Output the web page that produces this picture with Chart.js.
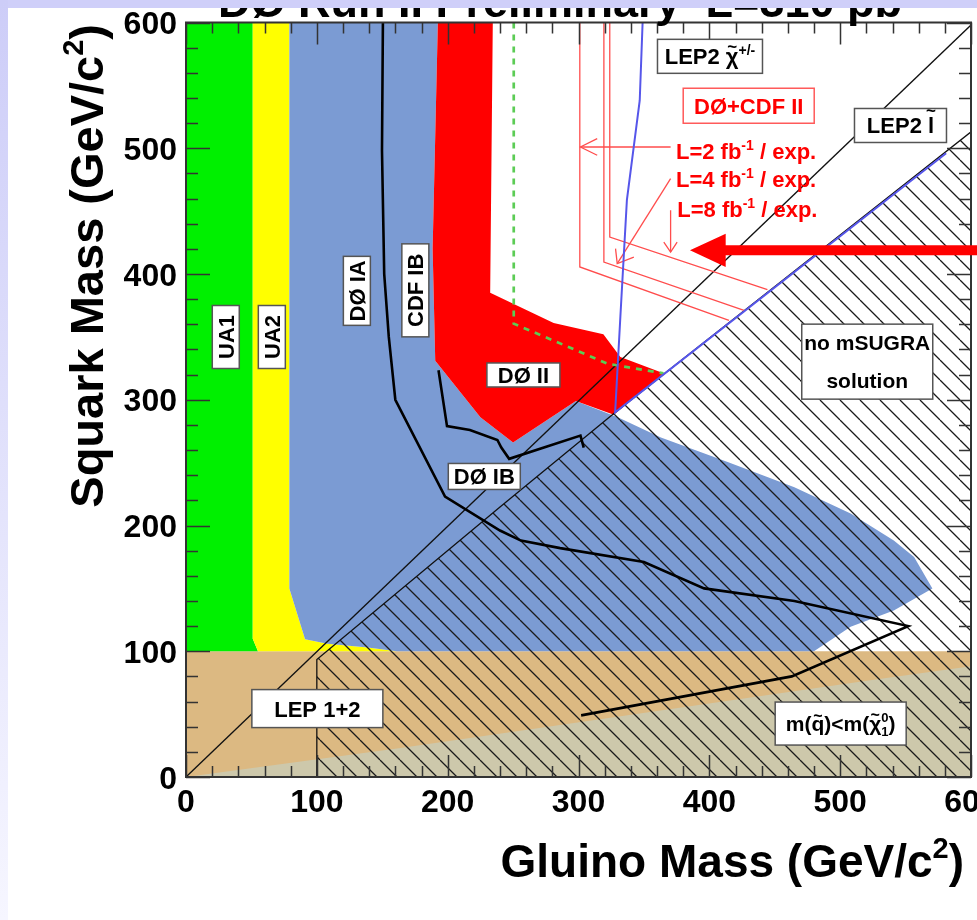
<!DOCTYPE html>
<html>
<head>
<meta charset="utf-8">
<script src="https://cdn.jsdelivr.net/npm/chart.js@4.4.1/dist/chart.umd.min.js"></script>
<style>
  html, body { margin: 0; padding: 0; background: #fff; }
</style>
</head>
<body>
<canvas id="mycanvas" width="977" height="920"></canvas>
<script>
// axis ticks (GeV/c^2)
var xTicks = [0, 100, 200, 300, 400, 500, 600];
var yTicks = [0, 100, 200, 300, 400, 500, 600];
var minorStep = 20;

// excluded regions, [gluino, squark] pairs
var lepRegion    = [[0,0],[0,100],[600,100],[600,0]];
var neutRegion   = [[0,0],[164,23],[523,77],[600,88],[600,0]];
var ua1Region    = [[0,100],[55,100],[51,110],[51,600],[0,600]];
var ua2Region    = [[51,600],[79,600],[79,150],[91,109.5],[108,106],[139,103],[161,100],[55,100],[51,110]];
var tevIRegion   = [[79,600],[192.5,600],[188.5,420],[190.5,331],[225,286],[250,266],[298,299],[330,286],
                    [363,270],[414,250.5],[465,230.5],[508,209.5],[541,188],[556.5,175],[570.5,150],
                    [541,132.5],[508,119.5],[480,100],[161,100],[139,103],[108,106],[91,109.5],[79,150]];
var d0IIRegion   = [[192.5,600],[234.5,600],[232.5,385],[281,361],[319,352],[332,334],[365,321],
                    [327,288],[298,299],[250,266],[225,286],[190.5,331],[188.5,420]];
var noSugra      = [[100,0],[100,93.4],[240,214.7],[327,289],[600,513],[600,0]];

// contour lines
var diagLine     = [[0,0],[600,598]];
var d0IALine     = [[150.5,600],[149.8,498],[151.5,400],[155,350],[160,300],[198,223],[240,196],[256,188],
                    [286,182],[350,171],[396,150],[465,140],[552,120],[463,80],[302,49]];
var d0IBLine     = [[193,323.5],[199.5,279],[217,276],[238,268],[241,262],[247,253],[301.5,271.5],[304,262]];
var cdfIILine    = [[250.5,600],[250.5,360.5],[281,347],[322,328.7],[365,321]];
var charginoLine = [[349,600],[346.8,538],[337,459],[332,366],[328,290],[581,496]];
var reach2fb     = [[301,600],[301,405.6],[415,363.2]];
var reach4fb     = [[319.4,600],[319.4,409.5],[426.5,371.1]];
var reach8fb     = [[323.9,600],[323.9,429.4],[444.4,387.5]];
var arrow2fb     = [[370.4,501],[301.5,501]];
var arrow2head   = [[314.3,507.6],[301.5,501],[314.3,494.4]];
var arrow4fb     = [[370.4,475.8],[329.6,408.2]];
var arrow4head   = [[328.3,420.2],[329.6,408.2],[342.3,413.5]];
var arrow8fb     = [[370.4,450.6],[370.4,417.5]];
var arrow8head   = [[365.2,425.4],[370.4,417.5],[375.4,425.4]];
var bigArrowBody = [[612,418.8],[410,418.8]];
var bigArrowHead = [[385.2,418.8],[412.5,432],[412.5,405.5]];

var FONT = '"Liberation Sans", Arial, Helvetica, sans-serif';

function pts(a) {
  return a.map(function(p){ return {x: p[0], y: p[1]}; });
}

var canvas = document.getElementById('mycanvas');
var ctx = canvas.getContext('2d');

// diagonal hatching for the "no mSUGRA solution" area
var hatch = (function(){
  var s = 20, c = document.createElement('canvas');
  c.width = s; c.height = s;
  var g = c.getContext('2d');
  g.strokeStyle = '#1a1a1a';
  g.lineWidth = 1.3;
  g.beginPath();
  [-s, 0, s].forEach(function(k){ g.moveTo(k, 0); g.lineTo(k + s, s); });
  g.stroke();
  return ctx.createPattern(c, 'repeat');
})();

function area(points, color, extra) {
  var d = {data: pts(points), backgroundColor: color, borderColor: 'rgba(0,0,0,0)', borderWidth: 0,
           fill: 'shape', pointRadius: 0, tension: 0};
  for (var k in extra) d[k] = extra[k];
  return d;
}
function line(points, color, width, extra) {
  var d = {data: pts(points), borderColor: color, borderWidth: width, fill: false,
           pointRadius: 0, tension: 0};
  for (var k in extra) d[k] = extra[k];
  return d;
}

var layers = [
  area(lepRegion, '#dcb982'),
  area(neutRegion, '#cdc8ab'),
  area(ua1Region, '#00f000'),
  area(ua2Region, '#ffff00'),
  area(tevIRegion, '#7b9bd3'),
  area(d0IIRegion, '#ff0000'),
  area(noSugra, hatch, {borderColor: '#111', borderWidth: 1.3}),
  line(diagLine, '#111', 1.3),
  line(cdfIILine, '#5ccc55', 2.7, {borderDash: [6, 6]}),
  line(reach2fb, '#ff4d4d', 1.3),
  line(reach4fb, '#ff4d4d', 1.3),
  line(reach8fb, '#ff4d4d', 1.3),
  line(arrow2fb, '#ff4d4d', 1.3),
  line(arrow2head, '#ff4d4d', 1.3),
  line(arrow4fb, '#ff4d4d', 1.3),
  line(arrow4head, '#ff4d4d', 1.3),
  line(arrow8fb, '#ff4d4d', 1.3),
  line(arrow8head, '#ff4d4d', 1.3),
  line(charginoLine, '#5656ea', 2),
  line(d0IALine, '#000', 2.6),
  line(d0IBLine, '#000', 2.6),
  line(bigArrowBody, '#ff0000', 10, {clip: false, borderCapStyle: 'butt'}),
  area(bigArrowHead, '#ff0000')
];
var frameBefore = layers.length - 2;
layers.forEach(function(d, i){ d.order = layers.length - i; });

// text boxes on the plot, placed at gluino/squark values
var notes = [
  {x: 30.4,  y: 349.9, w: 63,  h: 27, rot: true, lines: [[['UA1']]]},
  {x: 65.6,  y: 349.9, w: 63,  h: 27, rot: true, lines: [[['UA2']]]},
  {x: 130.6, y: 386.6, w: 69,  h: 27, rot: true, lines: [[['DØ IA']]]},
  {x: 175.3, y: 387,   w: 93,  h: 27, rot: true, lines: [[['CDF IB']]]},
  {x: 257.9, y: 319.7, w: 73,  h: 24, lines: [[['DØ II']]]},
  {x: 228,   y: 239,   w: 72,  h: 26, lines: [[['DØ IB']]]},
  {x: 100.4, y: 54.4,  w: 131, h: 38, lines: [[['LEP 1+2']]]},
  {x: 500.4, y: 42.5,  w: 131, h: 43, size: 21,
   lines: [[['m('], ['q', 'tilde', 0.5], [')<m('], ['χ', 'tilde', 0.55], ['1', 'sub'], ['0', 'sup2'], [')']]]},
  {x: 520.7, y: 330.3, w: 131, h: 75, size: 21, lh: 37.7, lines: [[['no mSUGRA']], [['solution']]]},
  {x: 546.1, y: 518.1, w: 92,  h: 34, lines: [[['LEP2 '], ['l', 'tilde', 0.78]]]},
  {x: 400.5, y: 573.1, w: 105, h: 34, lines: [[['LEP2 '], ['χ', 'tilde', 0.55], ['+/-', 'sup']]]},
  {x: 430.1, y: 533.8, w: 131, h: 35, color: '#ff0000', border: '#ff5a5a', lines: [[['DØ+CDF II']]]},
  {x: 374.5, y: 491.5, left: true, color: '#ff0000', lines: [[['L=2 fb'], ['-1', 'sup'], [' / exp.']]]},
  {x: 374.5, y: 469.2, left: true, color: '#ff0000', lines: [[['L=4 fb'], ['-1', 'sup'], [' / exp.']]]},
  {x: 375.5, y: 445.3, left: true, color: '#ff0000', lines: [[['L=8 fb'], ['-1', 'sup'], [' / exp.']]]}
];

function drawParts(c, parts, x, y, size, align) {
  function fs(m) { return (m === 'sup' || m === 'sub' || m === 'sup2') ? Math.round(size * 0.62) : size; }
  function wOf(p) { c.font = 'bold ' + fs(p[1]) + 'px ' + FONT; return c.measureText(p[0]).width; }
  var total = 0, prevW = 0;
  parts.forEach(function(p){
    var w = wOf(p);
    total += p[1] === 'sup2' ? Math.max(0, w - prevW) : w;
    prevW = w;
  });
  var cx = align === 'center' ? x - total / 2 : align === 'right' ? x - total : x;
  prevW = 0;
  c.textAlign = 'left';
  c.textBaseline = 'alphabetic';
  parts.forEach(function(p){
    var m = p[1], w = wOf(p);
    if (m === 'sup2') cx -= prevW;
    var dy = (m === 'sup' || m === 'sup2') ? -size * 0.42 : m === 'sub' ? size * 0.22 : 0;
    c.fillText(p[0], cx, y + dy);
    if (m === 'tilde') {
      c.font = 'bold ' + Math.round(size * 0.75) + 'px ' + FONT;
      var tw = c.measureText('~').width;
      c.fillText('~', cx + (w - tw) / 2, y - size * (p[2] || 0.55));
    }
    cx += m === 'sup2' ? Math.max(w, prevW) : w;
    prevW = w;
  });
}

function drawNote(c, n, chart) {
  var px = chart.scales.x.getPixelForValue(n.x);
  var py = chart.scales.y.getPixelForValue(n.y);
  var size = n.size || 22;
  c.save();
  c.translate(px, py);
  if (n.rot) c.rotate(-Math.PI / 2);
  c.fillStyle = n.color || '#000';
  if (n.left) {
    drawParts(c, n.lines[0], 0, 0, size, 'left');
    c.restore();
    return;
  }
  c.fillStyle = '#fff';
  c.fillRect(-n.w / 2, -n.h / 2, n.w, n.h);
  c.strokeStyle = n.border || '#555';
  c.lineWidth = 1.5;
  c.strokeRect(-n.w / 2, -n.h / 2, n.w, n.h);
  c.fillStyle = n.color || '#000';
  var lh = n.lh || size * 1.3;
  n.lines.forEach(function(parts, i){
    var yy = (i - (n.lines.length - 1) / 2) * lh + size * 0.36;
    drawParts(c, parts, 0, yy, size, 'center');
  });
  c.restore();
}

function drawFrame(chart) {
  var c = chart.ctx, a = chart.chartArea, xs = chart.scales.x, ys = chart.scales.y;
  c.save();
  c.strokeStyle = '#333';
  c.lineWidth = 1.5;
  c.beginPath();
  for (var v = 0; v <= 600; v += minorStep) {
    var px = Math.round(xs.getPixelForValue(v)) + 0.5;
    var tl = v % 100 === 0 ? 22 : 11;
    c.moveTo(px, a.bottom); c.lineTo(px, a.bottom - tl);
    c.moveTo(px, a.top); c.lineTo(px, a.top + tl);
    var py = Math.round(ys.getPixelForValue(v)) + 0.5;
    var yl = v % 100 === 0 ? 24 : 12;
    c.moveTo(a.left, py); c.lineTo(a.left + yl, py);
    c.moveTo(a.right, py); c.lineTo(a.right - yl, py);
  }
  c.stroke();
  c.lineWidth = 2;
  c.strokeRect(a.left, a.top, a.right - a.left, a.bottom - a.top);
  c.restore();
}

var decor = {
  id: 'decor',
  beforeDraw: function(chart) {
    var c = chart.ctx;
    c.save();
    c.fillStyle = '#fff';
    c.fillRect(0, 0, chart.width, chart.height);
    c.restore();
  },
  beforeDatasetDraw: function(chart, args) {
    if (args.index === frameBefore) drawFrame(chart);
  },
  afterDatasetsDraw: function(chart) {
    notes.forEach(function(n){ drawNote(chart.ctx, n, chart); });
  },
  afterDraw: function(chart) {
    var c = chart.ctx, a = chart.chartArea, xs = chart.scales.x, ys = chart.scales.y;
    c.save();
    c.fillStyle = '#000';
    c.font = 'bold 32px ' + FONT;
    c.textBaseline = 'alphabetic';
    c.textAlign = 'center';
    xTicks.forEach(function(v){ c.fillText(String(v), xs.getPixelForValue(v), a.bottom + 35); });
    c.textAlign = 'right';
    yTicks.forEach(function(v){ c.fillText(String(v), a.left - 9, ys.getPixelForValue(v) + 11.5); });

    drawParts(c, [['Gluino Mass (GeV/c'], ['2', 'sup'], [')']], 964, 877, 46, 'right');
    c.save();
    c.translate(103, 24);
    c.rotate(-Math.PI / 2);
    drawParts(c, [['Squark Mass (GeV/c'], ['2', 'sup'], [')']], 0, 0, 47, 'right');
    c.restore();

    drawParts(c, [['DØ Run II Preliminary  L=310 pb'], ['-1', 'sup']], 218, 17, 45, 'left');

    c.fillStyle = '#cfcff9';
    c.fillRect(0, 0, chart.width, 8);
    var g = c.createLinearGradient(0, 0, 0, chart.height);
    g.addColorStop(0, '#cdcdf8');
    g.addColorStop(1, '#f6f6ff');
    c.fillStyle = g;
    c.fillRect(0, 0, 8, chart.height);
    c.restore();
  }
};

var LineGraph = new Chart(ctx, {
  type: 'line',
  data: {datasets: layers},
  options: {
    responsive: false,
    animation: false,
    events: [],
    layout: {padding: {left: 186, top: 22.5, right: 6, bottom: 143}},
    scales: {
      x: {type: 'linear', min: 0, max: 600, display: false},
      y: {type: 'linear', min: 0, max: 600, display: false}
    },
    plugins: {legend: {display: false}, tooltip: {enabled: false}}
  },
  plugins: [decor]
});
</script>
</body>
</html>
